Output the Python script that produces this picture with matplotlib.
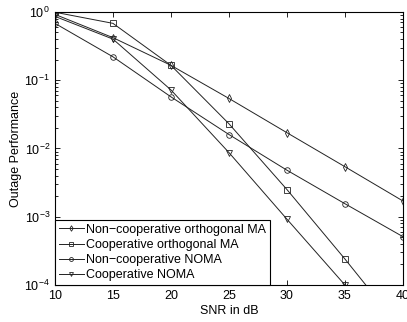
import matplotlib
matplotlib.use('Agg')
import matplotlib.pyplot as plt

plt.rcParams['font.family'] = ['Liberation Sans', 'DejaVu Sans']
plt.rcParams['mathtext.fontset'] = 'custom'
plt.rcParams['mathtext.rm'] = 'Liberation Sans'

snr = [10, 15, 20, 25, 30, 35, 40]
noncoop_oma = [0.92, 0.42, 0.165, 0.054, 0.017, 0.0054, 0.0017]
coop_oma = [0.99, 0.68, 0.165, 0.023, 0.0025, 0.00024, 0.000021]
noncoop_noma = [0.68, 0.22, 0.057, 0.016, 0.0048, 0.00155, 0.00051]
coop_noma = [0.86, 0.40, 0.072, 0.0087, 0.00092, 0.0001, 0.000011]

labels = ['Non\u2212cooperative orthogonal MA', 'Cooperative orthogonal MA',
          'Non\u2212cooperative NOMA', 'Cooperative NOMA']
series = [noncoop_oma, coop_oma, noncoop_noma, coop_noma]
markers = ['d', 's', 'o', 'v']

fig = plt.figure(figsize=(4.07, 3.22), dpi=100)
ax = fig.add_axes([0.135, 0.115, 0.855, 0.848])

for vals, lab, m in zip(series, labels, markers):
    ax.semilogy(snr, vals, color='#222222', lw=0.7, marker=m, markersize=4,
                markerfacecolor='none', markeredgewidth=0.6, label=lab)

ax.set_xlim(10, 40)
ax.set_ylim(1e-4, 1)
ax.set_xticks([10, 15, 20, 25, 30, 35, 40])
ax.tick_params(which='both', direction='in', top=True, right=True, labelsize=9,
               width=0.6)
ax.tick_params(which='major', length=3.5)
ax.tick_params(which='minor', length=2)
for s in ax.spines.values():
    s.set_linewidth(0.8)
ax.set_xlabel('SNR in dB', fontsize=9, labelpad=2)
ax.set_ylabel('Outage Performance', fontsize=9, labelpad=2)

leg = ax.legend(loc='lower left', fontsize=9, handlelength=2.0, borderaxespad=0,
                fancybox=False, edgecolor='black', framealpha=1, markerscale=0.7,
                labelspacing=0.25, borderpad=0.3, handletextpad=0.2)
leg.get_frame().set_linewidth(0.8)

fig.savefig('out.png', dpi=100)
